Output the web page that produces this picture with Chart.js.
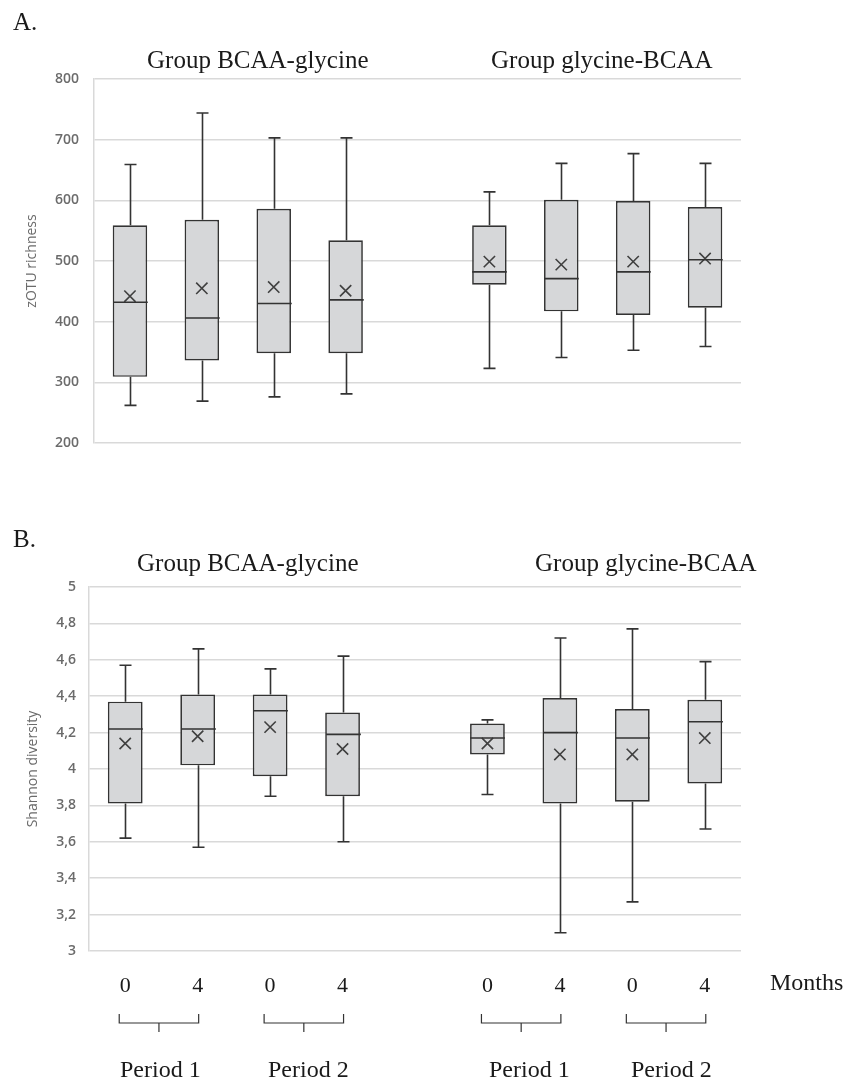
<!DOCTYPE html>
<html lang="en">
<head>
<meta charset="UTF-8">
<title>zOTU richness and Shannon diversity</title>
<script src="https://cdn.jsdelivr.net/npm/chart.js"></script>
<style>
  body { margin: 0; background: #fff; }
  .page { position: relative; width: 847px; height: 1080px; font-family: "Liberation Serif", "Times New Roman", serif; color: #1a1a1a; }
  .page canvas { position: absolute; left: 0; }
  .txt { position: absolute; white-space: nowrap; line-height: 1; font-size: 25px; }
  .small { font-size: 24px; }
</style>
</head>
<body>
<div class="page">
  <canvas id="richness_chart" width="847" height="470" style="top:0"></canvas>
  <canvas id="shannon_chart" width="847" height="600" style="top:480px"></canvas>

  <div class="txt" style="left:13px;top:9px">A.</div>
  <div class="txt" style="left:147px;top:47px">Group BCAA-glycine</div>
  <div class="txt" style="left:491px;top:47px">Group glycine-BCAA</div>

  <div class="txt" style="left:13px;top:526px">B.</div>
  <div class="txt" style="left:137px;top:550px">Group BCAA-glycine</div>
  <div class="txt" style="left:535px;top:550px">Group glycine-BCAA</div>

  <div class="txt small" style="left:770px;top:970px">Months</div>
  <div class="txt small" style="left:120px;top:1057px">Period 1</div>
  <div class="txt small" style="left:268px;top:1057px">Period 2</div>
  <div class="txt small" style="left:489px;top:1057px">Period 1</div>
  <div class="txt small" style="left:631px;top:1057px">Period 2</div>
</div>

<script>
    // slot 4 is the empty gap between the two groups
    const months = ['0', '4', '0', '4', '', '0', '4', '0', '4'];

    // A. zOTU richness
    const richMin    = [262, 269, 276, 281, null, 323, 341, 353, 359];
    const richQ1     = [309, 336, 348, 348, null, 461, 417, 411, 423];
    const richMedian = [432, 406, 430, 436, null, 482, 471, 482, 502];
    const richQ3     = [559, 568, 586, 534, null, 559, 601, 599, 589];
    const richMax    = [659, 744, 703, 703, null, 614, 661, 677, 661];
    const richMean   = [442, 455, 457, 451, null, 499, 494, 499, 504];

    // B. Shannon diversity
    const shanMin    = [3.62, 3.57, 3.85, 3.60, null, 3.86, 3.10, 3.27, 3.67];
    const shanQ1     = [3.81, 4.02, 3.96, 3.85, null, 4.08, 3.81, 3.82, 3.92];
    const shanMedian = [4.22, 4.22, 4.32, 4.19, null, 4.17, 4.20, 4.17, 4.26];
    const shanQ3     = [4.37, 4.41, 4.41, 4.31, null, 4.25, 4.39, 4.33, 4.38];
    const shanMax    = [4.57, 4.66, 4.55, 4.62, null, 4.27, 4.72, 4.77, 4.59];
    const shanMean   = [4.14, 4.18, 4.23, 4.11, null, 4.14, 4.08, 4.08, 4.17];

    // pairs of months that make one period (bracket under them)
    const periodPairs = [[0, 1], [2, 3], [5, 6], [7, 8]];

    const lineColor = '#333';
    const gridColor = '#d9d9d9';
    const tickGray = '#6b6b6b';

    // whiskers, caps, medians and the period brackets
    const boxExtras = {
        id: 'boxExtras',
        afterDatasetsDraw(chart, args, opts) {
            const ctx = chart.ctx;
            const x = chart.scales.x;
            const y = chart.scales.y;
            const bars = chart.getDatasetMeta(1).data;
            ctx.save();
            ctx.strokeStyle = lineColor;
            ctx.lineWidth = 1.6;
            opts.min.forEach((lo, i) => {
                if (lo == null) return;
                const cx = Math.round(x.getPixelForValue(i)) + 0.5;
                const half = bars[i].width / 2;
                const cap = 6;
                const yMin = y.getPixelForValue(lo);
                const yMax = y.getPixelForValue(opts.max[i]);
                const yQ1 = y.getPixelForValue(opts.q1[i]);
                const yQ3 = y.getPixelForValue(opts.q3[i]);
                const yMed = y.getPixelForValue(opts.median[i]);
                ctx.beginPath();
                ctx.moveTo(cx, yQ3); ctx.lineTo(cx, yMax);
                ctx.moveTo(cx - cap, yMax); ctx.lineTo(cx + cap, yMax);
                ctx.moveTo(cx, yQ1); ctx.lineTo(cx, yMin);
                ctx.moveTo(cx - cap, yMin); ctx.lineTo(cx + cap, yMin);
                ctx.moveTo(cx - half, yMed); ctx.lineTo(cx + half, yMed);
                ctx.stroke();
            });

            if (opts.brackets) {
                const base = chart.chartArea.bottom;
                ctx.lineWidth = 1.2;
                ctx.strokeStyle = '#333';
                opts.brackets.forEach(([a, b]) => {
                    const x0 = x.getPixelForValue(a) - 6;
                    const x1 = x.getPixelForValue(b) + 1;
                    const mid = (x0 + x1) / 2;
                    ctx.beginPath();
                    ctx.moveTo(x0, base + 63); ctx.lineTo(x0, base + 72);
                    ctx.lineTo(x1, base + 72); ctx.lineTo(x1, base + 63);
                    ctx.moveTo(mid, base + 72); ctx.lineTo(mid, base + 81);
                    ctx.stroke();
                });
            }
            ctx.restore();
        }
    };

    function commaLabel(v) {
        return String(+v.toFixed(1)).replace('.', ',');
    }

    function boxChart(id, s, yOpts, xOpts, layout) {
        return new Chart(id, {
            type: 'bar',
            data: {
                labels: months,
                datasets: [
                    {
                        type: 'line',
                        data: s.mean,
                        showLine: false,
                        pointStyle: 'crossRot',
                        pointRadius: 8,
                        pointBorderColor: '#404040',
                        pointBorderWidth: 1.6,
                        order: 0
                    },
                    {
                        data: s.q1.map((v, i) => v == null ? null : [v, s.q3[i]]),
                        backgroundColor: '#d6d7d9',
                        borderColor: lineColor,
                        borderWidth: 1.7,
                        borderSkipped: false,
                        barPercentage: 0.48,
                        categoryPercentage: 1,
                        order: 1
                    }
                ]
            },
            options: {
                responsive: false,
                animation: false,
                layout: { padding: layout },
                plugins: {
                    legend: { display: false },
                    tooltip: { enabled: false },
                    boxExtras: s
                },
                scales: {
                    x: xOpts,
                    y: Object.assign({
                        grid: { color: gridColor, lineWidth: 1.5, drawTicks: false },
                        border: { color: gridColor, width: 1.5 },
                    }, yOpts)
                }
            },
            plugins: [boxExtras]
        });
    }

    const tickFont = { family: 'Open Sans', size: 14, weight: '600' };
    const titleFont = { family: 'Open Sans', size: 14 };

    boxChart('richness_chart',
        { min: richMin, q1: richQ1, median: richMedian, q3: richQ3, max: richMax, mean: richMean },
        {
            min: 200, max: 800,
            ticks: { stepSize: 100, padding: 15, color: tickGray, font: tickFont },
            title: { display: true, text: 'zOTU richness', color: tickGray, font: titleFont, padding: { top: 4, bottom: 4 } },
            afterFit: scale => { scale.width = 74; }
        },
        { display: false },
        { left: 20, right: 106, top: 79, bottom: 27 }
    );

    boxChart('shannon_chart',
        { min: shanMin, q1: shanQ1, median: shanMedian, q3: shanQ3, max: shanMax, mean: shanMean, brackets: periodPairs },
        {
            min: 3, max: 5,
            ticks: { stepSize: 0.2, padding: 13, color: tickGray, font: tickFont, callback: commaLabel },
            title: { display: true, text: 'Shannon diversity', color: tickGray, font: titleFont, padding: { top: 4, bottom: 4 } },
            afterFit: scale => { scale.width = 68; }
        },
        {
            grid: { display: false },
            border: { display: false },
            ticks: { color: '#1a1a1a', padding: 14, maxRotation: 0, autoSkip: false, font: { family: 'Liberation Serif', size: 22 } },
            afterFit: scale => { scale.height = 129; }
        },
        { left: 21, right: 106, top: 107, bottom: 0 }
    );
</script>
</body>
</html>
